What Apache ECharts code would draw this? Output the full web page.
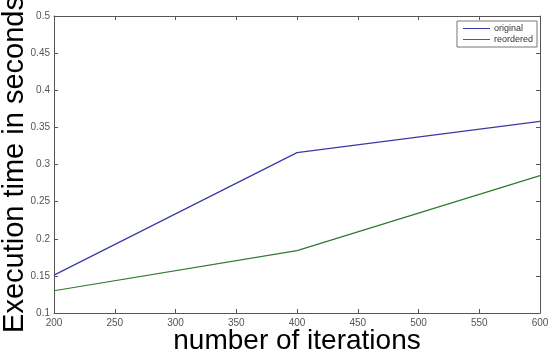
<!DOCTYPE html>
<html>
<head>
<meta charset="utf-8">
<script src="https://cdn.jsdelivr.net/npm/echarts@6/dist/echarts.min.js"></script>
<style>
  html, body { margin: 0; padding: 0; background: #fff; }
  #chart { width: 550px; height: 353px; }
</style>
</head>
<body>
<div id="chart"></div>
<script>
// data
const iterations = [200, 400, 600];
const original = [0.151, 0.316, 0.358];
const reordered = [0.130, 0.184, 0.285];
const seriesNames = ['original', 'reordered'];

const chart = echarts.init(document.getElementById('chart'));
const font = 'Liberation Sans, Arial, sans-serif';
const axisColor = '#555';

const option = {
  animation: false,
  grid: { left: 54, right: 10, top: 16, bottom: 40, outerBoundsMode: 'none', containLabel: false },
  legend: {
    data: seriesNames,
    orient: 'vertical',
    right: 13,
    top: 21,
    itemWidth: 27,
    itemHeight: 1,
    itemGap: 2,
    padding: [3, 4, 3, 6],
    icon: 'rect',
    backgroundColor: '#fff',
    borderColor: '#777',
    borderWidth: 1,
    borderRadius: 0,
    textStyle: { fontFamily: font, fontSize: 9, color: '#333', padding: [0, 0, 0, -1] }
  },
  xAxis: [
    {
      type: 'value',
      min: 200, max: 600, interval: 50,
      name: 'number of iterations',
      nameLocation: 'middle',
      nameGap: 14,
      nameMoveOverlap: false,
      nameTextStyle: { fontFamily: font, fontSize: 28, color: '#000' },
      axisLine: { lineStyle: { color: axisColor } },
      axisTick: { inside: true, length: 4, lineStyle: { color: axisColor } },
      axisLabel: { fontFamily: font, fontSize: 10, color: '#555', margin: 5 },
      splitLine: { show: false }
    },
    {
      type: 'value', position: 'top',
      min: 200, max: 600, interval: 50,
      axisLine: { lineStyle: { color: axisColor } },
      axisTick: { inside: true, length: 4, lineStyle: { color: axisColor } },
      axisLabel: { show: false },
      splitLine: { show: false }
    }
  ],
  yAxis: [
    {
      type: 'value',
      min: 0.1, max: 0.5, interval: 0.05,
      name: 'Execution time in seconds',
      nameLocation: 'middle',
      nameGap: 25,
      nameMoveOverlap: false,
      nameTextStyle: { fontFamily: font, fontSize: 29, color: '#000' },
      axisLine: { lineStyle: { color: axisColor } },
      axisTick: { inside: true, length: 4, lineStyle: { color: axisColor } },
      axisLabel: { fontFamily: font, fontSize: 10, color: '#555', margin: 4,
        formatter: v => String(+v.toFixed(2)) },
      splitLine: { show: false }
    },
    {
      type: 'value', position: 'right',
      min: 0.1, max: 0.5, interval: 0.05,
      axisLine: { lineStyle: { color: axisColor } },
      axisTick: { inside: true, length: 4, lineStyle: { color: axisColor } },
      axisLabel: { show: false },
      splitLine: { show: false }
    }
  ],
  series: [
    {
      name: seriesNames[0],
      type: 'line',
      data: iterations.map((x, i) => [x, original[i]]),
      symbol: 'none',
      lineStyle: { color: '#3a3aa6', width: 1.2 },
      itemStyle: { color: '#3a3aa6' }
    },
    {
      name: seriesNames[1],
      type: 'line',
      data: iterations.map((x, i) => [x, reordered[i]]),
      symbol: 'none',
      lineStyle: { color: '#2f7a2f', width: 1.2 },
      itemStyle: { color: '#2f7a2f' }
    }
  ]
};

chart.setOption(option);
</script>
</body>
</html>
